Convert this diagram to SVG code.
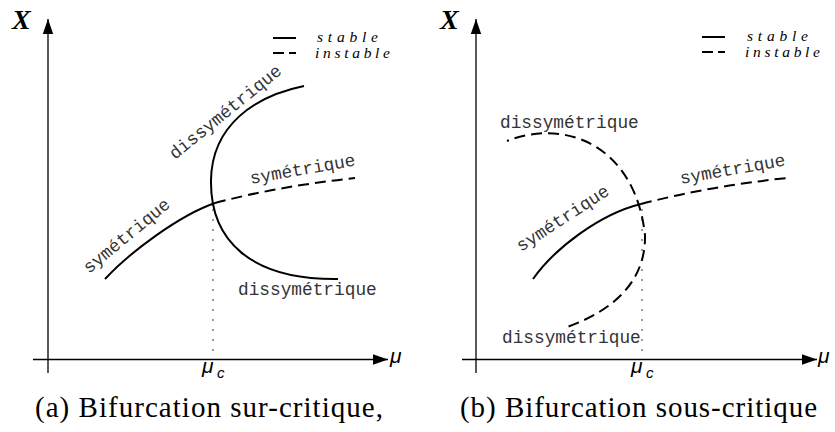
<svg xmlns="http://www.w3.org/2000/svg" width="835" height="432" viewBox="0 0 835 432">
<defs>
<marker id="arr" markerUnits="userSpaceOnUse" markerWidth="16" markerHeight="12" refX="15" refY="6" orient="auto" viewBox="0 0 16 12"><path d="M0,0.8 L15,6 L0,11.2 Z" fill="#000"/></marker>
</defs>
<style>
.axis{stroke:#000;stroke-width:1.3;fill:none}
.stable{stroke:#000;stroke-width:2;fill:none}
.unstable{stroke:#000;stroke-width:2;fill:none;stroke-dasharray:11 6}
.dot{stroke:#000;stroke-width:1.5;stroke-linecap:round;stroke-dasharray:0 10;fill:none}
.lbl{font-family:'Liberation Mono','DejaVu Sans Mono',monospace;font-size:17.8px;fill:#333}
.leg{font-family:'Liberation Serif','DejaVu Serif',serif;font-style:italic;font-size:15.5px;fill:#000}
.axlbl{font-family:'Liberation Serif','DejaVu Serif',serif;font-style:italic;font-weight:bold;font-size:28px;fill:#000}
.mu{font-family:'Liberation Sans','DejaVu Sans',sans-serif;font-style:italic;font-size:21px;fill:#000}
.sub{font-family:'Liberation Sans','DejaVu Sans',sans-serif;font-style:italic;font-size:15px;fill:#000}
.cap{font-family:'Liberation Serif','DejaVu Serif',serif;font-size:29px;fill:#000}
</style>

<g id="panel-a">
  <g id="axes-a">
    <line class="axis" x1="48" y1="373" x2="48" y2="19" marker-end="url(#arr)"/>
    <line class="axis" x1="33" y1="359.5" x2="388" y2="359.5" marker-end="url(#arr)"/>
    <text class="axlbl" x="12" y="29">X</text>
    <text class="mu" x="390" y="363">μ</text>
    <text class="mu" x="202" y="373">μ</text>
    <text class="sub" x="217" y="378">c</text>
  </g>
  <g id="legend-a">
    <line class="stable" x1="273" y1="38" x2="296" y2="38"/>
    <line class="unstable" x1="273" y1="53" x2="296" y2="53" style="stroke-dasharray:11 5"/>
    <text class="leg" x="317" y="42" textLength="61" lengthAdjust="spacing">stable</text>
    <text class="leg" x="315" y="58" textLength="75" lengthAdjust="spacing">instable</text>
  </g>
  <g id="connectors-a">
    <path class="dot" d="M213 210 L213 358"/>
    <path class="stable" d="M105 279 C130 252 180 215 215 203"/>
    <path class="unstable" d="M215 203 Q280 186 355 178"/>
    <path class="stable" d="M304 86 C255 96 212 125 211 180 C210 240 250 280 338 279"/>
  </g>
  <g id="labels-a">
    <text class="lbl" transform="translate(175 160) rotate(-39)">dissymétrique</text>
    <text class="lbl" transform="translate(89 274) rotate(-39.5)">symétrique</text>
    <text class="lbl" transform="translate(251 184) rotate(-10)">symétrique</text>
    <text class="lbl" x="238" y="295">dissymétrique</text>
  </g>
  <text class="cap" x="35" y="417" textLength="348" lengthAdjust="spacing">(a) Bifurcation sur-critique,</text>
</g>

<g id="panel-b">
  <g id="axes-b">
    <line class="axis" x1="476" y1="373" x2="476" y2="19" marker-end="url(#arr)"/>
    <line class="axis" x1="462" y1="359.5" x2="817" y2="359.5" marker-end="url(#arr)"/>
    <text class="axlbl" x="440" y="29">X</text>
    <text class="mu" x="818" y="363">μ</text>
    <text class="mu" x="631" y="373">μ</text>
    <text class="sub" x="646" y="378">c</text>
  </g>
  <g id="legend-b">
    <line class="stable" x1="702" y1="37" x2="725" y2="37"/>
    <line class="unstable" x1="702" y1="52" x2="725" y2="52" style="stroke-dasharray:11 5"/>
    <text class="leg" x="747" y="41" textLength="61" lengthAdjust="spacing">stable</text>
    <text class="leg" x="745" y="57" textLength="75" lengthAdjust="spacing">instable</text>
  </g>
  <g id="connectors-b">
    <path class="dot" d="M642 210 L642 358"/>
    <path class="stable" d="M533 279 C555 248 600 214 641 204"/>
    <path class="unstable" d="M641 204 Q710 186 787 178"/>
    <path class="unstable" d="M507 141 C565 118 635 145 645 235 C646 280 615 310 567 327" style="stroke-dashoffset:9"/>
  </g>
  <g id="labels-b">
    <text class="lbl" x="500" y="128">dissymétrique</text>
    <text class="lbl" transform="translate(681 184) rotate(-10)">symétrique</text>
    <text class="lbl" transform="translate(521 252) rotate(-33)">symétrique</text>
    <text class="lbl" x="502" y="343">dissymétrique</text>
  </g>
  <text class="cap" x="460" y="417" textLength="357" lengthAdjust="spacing">(b) Bifurcation sous-critique</text>
</g>
</svg>
